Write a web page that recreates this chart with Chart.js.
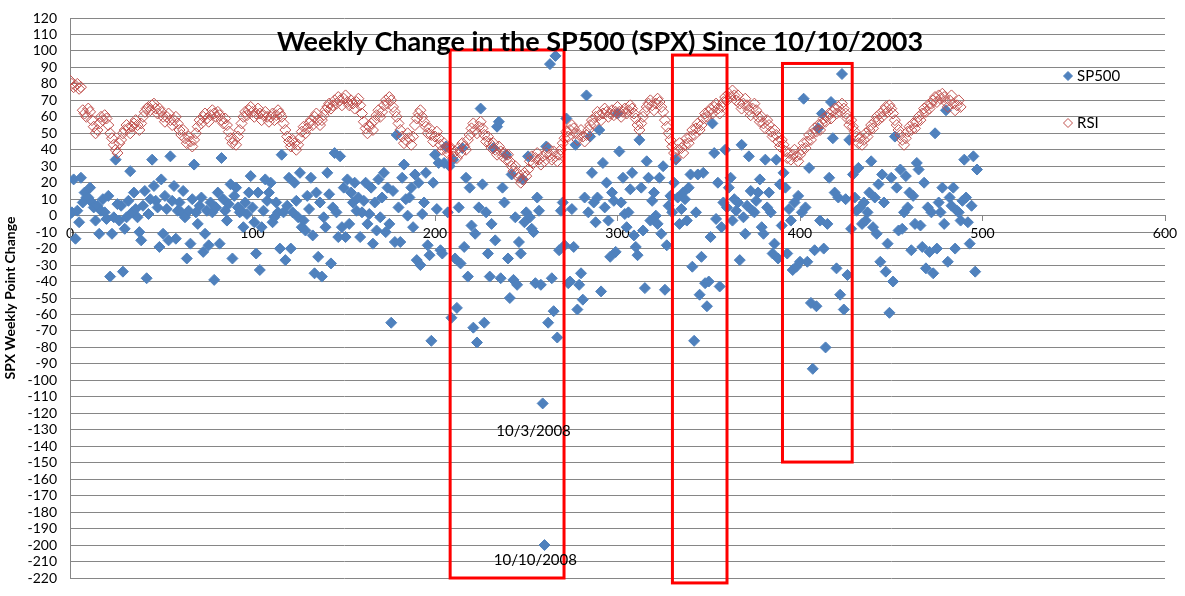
<!DOCTYPE html>
<html>
<head>
<meta charset="utf-8">
<title>Weekly Change in the SP500</title>
<script src="https://cdn.jsdelivr.net/npm/chart.js@4.4.1/dist/chart.umd.min.js"></script>
<style>
  body { margin: 0; background: #fff; }
  canvas { display: block; }
</style>
</head>
<body>
<canvas id="chart" width="1185" height="596"></canvas>
<script>
// weekly point change of SPX, one value per week since 10/10/2003
const sp500Values = [
  1, 2, 22, -14, 3, -4, 23, 8, 14, 11,
  11, 17, 8, 5, -3, 6, -11, 3, 10, 2,
  -2, 12, -37, -11, -1, 34, 7, -3, 6, -34,
  -8, -1, 9, 27, 2, 14, 4, -1, -10, -15,
  6, 15, -38, 1, 10, 34, 18, 9, 5, -19,
  22, -11, 12, 4, -15, 36, 9, 18, -14, 3,
  8, 2, 15, -1, -26, 3, -17, 10, 31, 2,
  -5, 6, 11, -22, -11, 3, -18, 8, 2, -39,
  5, 14, -17, 35, 10, 3, -3, 7, 19, -26,
  12, 17, 5, 2, 3, -7, 8, 1, 14, 24,
  5, -4, -23, 14, -33, -7, 3, 22, 9, 14,
  20, -4, -1, 8, 2, -20, 37, 2, -27, 6,
  23, -20, 2, 20, 9, -1, 26, -7, -3, -9,
  12, 4, 23, -12, -35, 14, -25, 8, -37, -1,
  -7, 26, 13, -29, 5, 38, 2, -13, 36, -7,
  17, -13, 22, -5, 14, 8, 20, 3, 11, -13,
  2, 9, 20, -5, 1, 17, -17, 8, -9, 22,
  -1, 11, 26, -10, 17, -5, -65, 15, -16, 49,
  5, -16, 23, 31, 10, 0, 11, 17, -7, 25,
  -27, 20, -30, 1, 8, 26, -18, -24, -76, 20,
  37, 4, 32, -21, -23, 32, 42, 2, 30, -62,
  34, -26, -56, 5, -29, 41, -19, 23, -37, 17,
  -6, -68, -11, -77, 5, 65, 19, -65, 2, -23,
  -37, -5, 41, -15, 54, 57, -38, 17, 8, 37,
  -26, -50, 25, -39, -1, -42, -16, -23, 22, -4,
  2, 36, -1, -8, -10, -41, 11, 3, -42, -114,
  -200, 42, -65, 92, -38, -58, 97, -74, -21, 3,
  8, -18, 59, -41, -40, 4, -19, 43, -57, -42,
  -35, -51, 11, 73, 2, 48, 26, 8, -4, 11,
  52, -46, 32, 5, 20, -3, -25, 14, 9, -22,
  62, 39, 8, 23, 1, -7, 2, 16, 26, -12,
  -19, -24, 46, 17, -9, -44, 33, 23, -3, 9,
  14, 0, -5, 23, -11, 30, -45, -18, 6, 12,
  2, 20, 34, 11, -5, 4, 14, 10, -3, 17,
  25, -31, -76, 2, 25, -48, -25, 26, -41, -55,
  -40, -13, 56, 38, -2, 20, -43, -7, 8, 40,
  5, 17, 23, -3, 10, 3, 8, -27, 43, -1,
  -11, 6, 36, 15, 3, 2, 9, 14, 22, -7,
  -11, 34, 5, 14, 2, -23, -17, 34, -26, 19,
  -6, 26, 17, -23, 4, -3, -33, 8, -31, 12,
  -28, 2, 71, 5, -28, 29, -53, -93, -21, -55,
  53, -3, 62, -20, -80, -5, 23, 69, 47, 14,
  -32, 11, -48, 86, -57, 10, -36, 46, -8, 25,
  11, 3, 29, 5, -5, 8, -3, 2, 14, 33,
  -7, 11, -11, 19, -28, 25, 8, -34, -17, -59,
  23, -40, 48, 17, -9, 28, -8, 2, 24, 5,
  14, -21, 12, -5, 32, 28, -6, -19, 20, -32,
  5, -22, 2, -35, 50, -20, 8, 2, 17, -5,
  64, -28, 11, 6, 17, -20, 3, 2, -3, 9,
  34, 11, -4, -17, 6, 36, -34, 28
];

// weekly RSI, same weeks
const rsiValues = [
  82, 80, 78, 79, 80, 77, 78, 64, 62, 60,
  65, 63, 58, 54, 50, 52, 56, 60, 58, 61,
  59, 55, 50, 47, 43, 40, 38, 44, 46, 50,
  52, 55, 53, 50, 54, 56, 58, 55, 52, 56,
  60, 63, 65, 66, 64, 67, 68, 65, 62, 65,
  63, 60, 57, 60, 62, 58, 55, 58, 60, 56,
  52, 49, 52, 47, 44, 48, 45, 42, 46, 50,
  54, 58, 56, 60, 62, 59, 57, 61, 64, 62,
  60, 63, 61, 58, 56, 59, 55, 51, 47, 44,
  46, 43, 48, 52, 56, 60, 63, 61, 64, 66,
  63, 60, 62, 65, 62, 58, 61, 63, 60, 57,
  60, 62, 58, 61, 64, 62, 60, 56, 52, 48,
  45, 42, 46, 44, 40, 43, 47, 51, 54, 50,
  53, 56, 58, 55, 60, 62, 58, 55, 58, 61,
  64, 66, 68, 65, 67, 70, 68, 72, 70, 67,
  71, 73, 69, 67, 70, 68, 65, 69, 71, 67,
  62, 57, 53, 50, 54, 56, 52, 58, 61, 64,
  60, 63, 67, 70, 68, 72, 70, 66, 63, 60,
  56, 52, 48, 44, 46, 50, 47, 43, 48, 55,
  59, 62, 64, 60, 57, 54, 50, 53, 49, 45,
  48, 51, 47, 43, 40, 44, 41, 38, 42, 40,
  36, 39, 35, 41, 38, 44, 42, 40, 46, 49,
  53, 56, 52, 50, 54, 57, 53, 49, 45, 48,
  44, 41, 44, 40, 37, 42, 39, 36, 38, 34,
  37, 33, 30, 27, 30, 26, 23, 20, 22, 26,
  24, 28, 33, 36, 32, 35, 38, 34, 31, 36,
  33, 38, 41, 37, 34, 39, 36, 33, 37, 40,
  44, 47, 51, 48, 52, 55, 53, 50, 46, 49,
  52, 48, 45, 49, 52, 55, 58, 56, 60, 63,
  61, 58, 62, 65, 63, 60, 62, 64, 61, 63,
  66, 63, 60, 63, 65, 62, 64, 67, 65, 62,
  59, 55, 52, 56, 60, 63, 66, 68, 70, 67,
  64, 68, 71, 69, 66, 63, 58, 54, 50, 46,
  42, 38, 35, 40, 44, 41, 38, 43, 47, 44,
  48, 52, 49, 53, 56, 52, 55, 59, 62, 60,
  63, 65, 62, 66, 68, 65, 62, 66, 69, 72,
  70, 74, 72, 76, 73, 70, 73, 68, 65, 68,
  71, 67, 64, 61, 65, 68, 64, 60, 57, 60,
  56, 53, 58, 55, 51, 48, 52, 49, 45, 42,
  46, 43, 39, 35, 38, 34, 37, 40, 36, 33,
  37, 40, 44, 41, 45, 49, 46, 50, 53, 51,
  55, 52, 56, 59, 57, 60, 62, 59, 63, 65,
  62, 66, 63, 68, 65, 62, 59, 55, 58, 54,
  51, 48, 44, 47, 43, 46, 50, 48, 52, 55,
  53, 57, 60, 58, 62, 60, 64, 66, 63, 67,
  65, 62, 58, 55, 52, 49, 46, 43, 47, 51,
  54, 52, 56, 53, 57, 60, 58, 62, 65, 63,
  67, 65, 68, 70, 72, 69, 73, 71, 74, 72,
  69, 66, 70, 73, 68, 64, 67, 70, 66
];

const seriesNames = ['SP500', 'RSI'];
const chartTitle = 'Weekly Change in the SP500 (SPX) Since 10/10/2003';
const yAxisTitle = 'SPX Weekly Point Change';

// labelled weeks and the highlighted ranges (week from/to, change from/to)
const callouts = [
  { text: '10/3/2008', x: 254, y: -131 },
  { text: '10/10/2008', x: 255, y: -209 }
];
const boxes = [
  [208.3, 270.7, 100.6, -220],
  [330.1, 360.0, 97.5, -223],
  [390.4, 428.6, 92.4, -149.6]
];

const BLUE = '#4f81bd';
const RED = '#c0504d';
const GRID = '#868686';
const FONT = 'Lato, "Liberation Sans", sans-serif';

const toPoints = vals => vals.map((v, i) => ({ x: i, y: v }));

const overlay = {
  id: 'overlay',
  afterDraw(chart) {
    const { ctx, scales: { x, y } } = chart;
    ctx.save();

    // highlight boxes
    ctx.strokeStyle = '#ff0000';
    ctx.lineWidth = 3;
    boxes.forEach(([x0, x1, y0, y1]) => {
      const l = x.getPixelForValue(x0), r = x.getPixelForValue(x1);
      const t = y.getPixelForValue(y0), b = y.getPixelForValue(y1);
      ctx.strokeRect(l, t, r - l, b - t);
    });

    // date labels
    ctx.fillStyle = '#000';
    ctx.font = '15px ' + FONT;
    ctx.textAlign = 'center';
    ctx.textBaseline = 'middle';
    callouts.forEach(c => {
      ctx.fillText(c.text, x.getPixelForValue(c.x), y.getPixelForValue(c.y));
    });

    // title, fitted to the width it has in the original
    let size = 28;
    ctx.font = 'bold ' + size + 'px ' + FONT;
    size = size * 646 / ctx.measureText(chartTitle).width;
    ctx.font = 'bold ' + size.toFixed(1) + 'px ' + FONT;
    ctx.fillText(chartTitle, 600, 42);

    // legend
    ctx.font = '15px ' + FONT;
    ctx.textAlign = 'left';
    const items = [
      { name: seriesNames[0], y: 76, fill: BLUE, stroke: BLUE },
      { name: seriesNames[1], y: 123, fill: null, stroke: RED }
    ];
    items.forEach(it => {
      const cx = 1068, r = 4.5;
      ctx.beginPath();
      ctx.moveTo(cx, it.y - r);
      ctx.lineTo(cx + r, it.y);
      ctx.lineTo(cx, it.y + r);
      ctx.lineTo(cx - r, it.y);
      ctx.closePath();
      ctx.lineWidth = 1;
      ctx.strokeStyle = it.stroke;
      if (it.fill) { ctx.fillStyle = it.fill; ctx.fill(); }
      ctx.stroke();
      ctx.fillStyle = '#000';
      ctx.fillText(it.name, 1077, it.y);
    });

    ctx.restore();
  }
};

new Chart(document.getElementById('chart'), {
  type: 'scatter',
  data: {
    datasets: [
      {
        label: seriesNames[0],
        data: toPoints(sp500Values),
        pointStyle: 'rectRot',
        pointRadius: 5.5,
        backgroundColor: BLUE,
        borderColor: BLUE,
        borderWidth: 1,
        order: 1
      },
      {
        label: seriesNames[1],
        data: toPoints(rsiValues),
        pointStyle: 'rectRot',
        pointRadius: 5.5,
        backgroundColor: 'rgba(0,0,0,0)',
        borderColor: RED,
        borderWidth: 1,
        order: 0
      }
    ]
  },
  options: {
    responsive: false,
    animation: false,
    layout: { padding: { top: 18, right: 20, bottom: 18, left: 0 } },
    plugins: {
      legend: { display: false },
      tooltip: { enabled: false }
    },
    scales: {
      x: {
        type: 'linear',
        position: { y: 0 },
        min: 0,
        max: 600,
        ticks: {
          stepSize: 100,
          color: '#000',
          font: { family: FONT, size: 14 },
          padding: 4,
          maxRotation: 0
        },
        grid: { drawOnChartArea: false, drawTicks: true, tickLength: 5, color: GRID },
        border: { color: GRID }
      },
      y: {
        min: -220,
        max: 120,
        afterFit(scale) {
          scale.width = 70;
          scale.paddingTop = 0;
          scale.paddingBottom = 0;
        },
        ticks: {
          stepSize: 10,
          autoSkip: false,
          color: '#000',
          font: { family: FONT, size: 14 },
          padding: 13
        },
        grid: { color: GRID, drawTicks: false },
        border: { color: GRID },
        title: {
          display: true,
          text: yAxisTitle,
          color: '#000',
          font: { family: FONT, size: 14, weight: 'bold' },
          padding: { top: 2, bottom: 0 }
        }
      }
    }
  },
  plugins: [overlay]
});
</script>
</body>
</html>
